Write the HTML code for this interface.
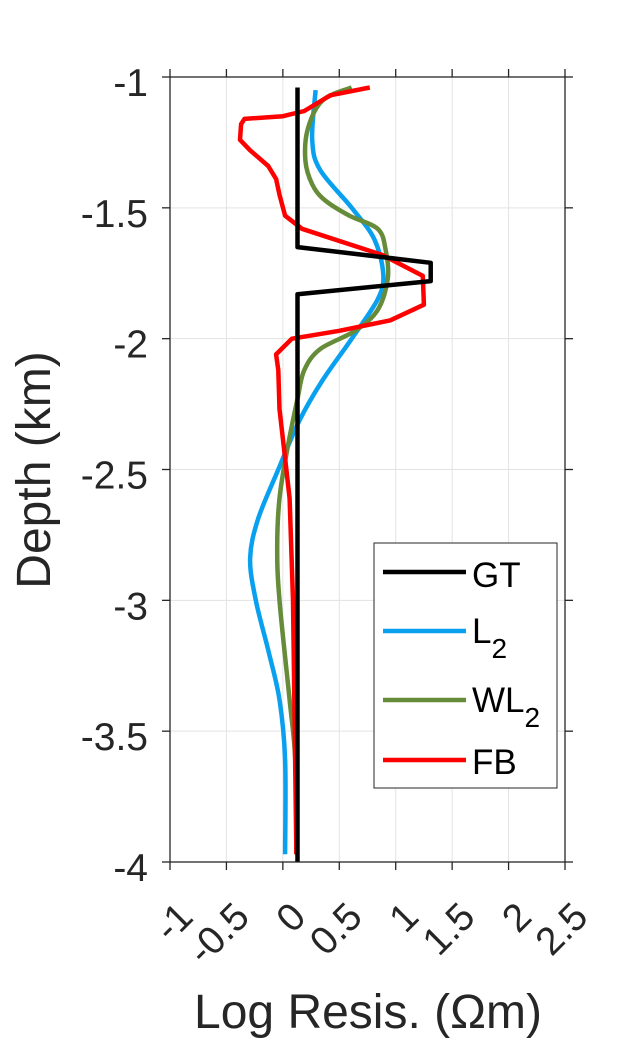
<!DOCTYPE html>
<html><head><meta charset="utf-8"><style>
body{margin:0;background:#fff;width:625px;height:1042px;overflow:hidden}
svg{display:block;font-family:"Liberation Sans",Arial,sans-serif}
</style></head><body>
<svg id="chart" width="625" height="1042" viewBox="0 0 625 1042">
<g id="grid"></g>
<g id="series"></g>
<g id="axes"></g>
<text transform="translate(50,470) rotate(-90)" text-anchor="middle" font-size="48" fill="#262626">Depth (km)</text>
<text x="368" y="1028" text-anchor="middle" font-size="48" fill="#262626">Log Resis. (Ωm)</text>
<g>
<rect x="374" y="543" width="183" height="245" fill="#fff" stroke="#262626" stroke-width="1"/>
<g><line x1="383" y1="572" x2="466" y2="572" stroke="#000" stroke-width="4.5"/><text x="472" y="587" font-size="35" fill="#000">GT</text></g>
<g><line x1="383" y1="631" x2="466" y2="631" stroke="#0aa0f0" stroke-width="4.5"/><text x="472" y="643" font-size="35" fill="#000">L<tspan font-size="28" dy="15">2</tspan></text></g>
<g><line x1="383" y1="700" x2="466" y2="700" stroke="#668b39" stroke-width="4.5"/><text x="472" y="712" font-size="35" fill="#000">WL<tspan font-size="28" dy="15">2</tspan></text></g>
<g><line x1="383" y1="760" x2="466" y2="760" stroke="#ff0000" stroke-width="4.5"/><text x="472" y="774" font-size="35" fill="#000">FB</text></g>
</g>
</svg>
<script>
const xTicks=[-1,-0.5,0,0.5,1,1.5,2,2.5];
const xTickLabels=["-1","-0.5","0","0.5","1","1.5","2","2.5"];
const yTicks=[-1,-1.5,-2,-2.5,-3,-3.5,-4];
const yTickLabels=["-1","-1.5","-2","-2.5","-3","-3.5","-4"];
const gtDepth=[-1.04,-1.65,-1.71,-1.78,-1.83,-4];
const gtVal=[0.13,0.13,1.31,1.31,0.13,0.13];
const l2Depth=[-1.05,-1.24,-1.355,-1.5,-1.62,-1.755,-1.85,-2.0,-2.16,-2.31,-2.5,-2.69,-2.84,-3.0,-3.19,-3.38,-3.61,-3.97];
const l2Val=[0.29,0.26,0.33,0.61,0.81,0.89,0.84,0.61,0.35,0.15,-0.04,-0.22,-0.29,-0.24,-0.13,-0.03,0.02,0.02];
const wl2Depth=[-1.04,-1.09,-1.2,-1.32,-1.41,-1.47,-1.53,-1.58,-1.66,-1.77,-1.89,-1.97,-2.04,-2.12,-2.23,-2.42,-2.61,-2.8,-3.0,-3.38,-3.61,-3.97];
const wl2Val=[0.61,0.35,0.22,0.2,0.26,0.37,0.59,0.84,0.91,0.93,0.84,0.64,0.33,0.19,0.13,0.04,-0.03,-0.05,-0.03,0.06,0.11,0.12];
const fbDepth=[-1.04,-1.07,-1.13,-1.15,-1.16,-1.18,-1.24,-1.28,-1.34,-1.39,-1.45,-1.53,-1.58,-1.68,-1.76,-1.87,-1.93,-1.97,-2.0,-2.06,-2.12,-2.27,-2.42,-2.61,-3.0,-3.97];
const fbVal=[0.77,0.42,0.19,0,-0.34,-0.37,-0.38,-0.29,-0.13,-0.06,-0.03,0.02,0.17,0.88,1.24,1.25,0.95,0.5,0.08,-0.06,-0.04,-0.03,0.01,0.06,0.09,0.12];

const X0=170,X1=565,Y0=77,Y1=862;
const xs=v=>X0+(v+1)/3.5*(X1-X0);
const ys=d=>Y0+(-1-d)/3*(Y1-Y0);
const NS="http://www.w3.org/2000/svg";
function mk(tag,attrs,parent){const e=document.createElementNS(NS,tag);for(const k in attrs)e.setAttribute(k,attrs[k]);parent.appendChild(e);return e;}
const grid=document.getElementById('grid'),axes=document.getElementById('axes'),series=document.getElementById('series');
xTicks.forEach((v,i)=>{
  const x=xs(v);
  const g=mk('line',{x1:x,y1:Y0,x2:x,y2:Y1,stroke:'#e3e3e3','stroke-width':1},grid);
  
  
  const t1=mk('line',{x1:x,y1:Y1,x2:x,y2:Y1+8,stroke:'#262626','stroke-width':1.3},axes);
  
  
  const t2=mk('line',{x1:x,y1:Y0,x2:x,y2:Y0-8,stroke:'#262626','stroke-width':1.3},axes);
  
  
  const lb=mk('text',{transform:`translate(${x+25},${Y1+57}) rotate(-45)`,'text-anchor':'end','font-size':39,fill:'#262626'},axes);
  lb.textContent=xTickLabels[i];
  
  
});
yTicks.forEach((v,i)=>{
  const y=ys(v);
  const g=mk('line',{x1:X0,y1:y,x2:X1,y2:y,stroke:'#e3e3e3','stroke-width':1},grid);
  
  
  const t1=mk('line',{x1:X0,y1:y,x2:X0-8,y2:y,stroke:'#262626','stroke-width':1.3},axes);
  
  
  const t2=mk('line',{x1:X1,y1:y,x2:X1+8,y2:y,stroke:'#262626','stroke-width':1.3},axes);
  
  
  const lb=mk('text',{x:148,y:y+19,'text-anchor':'end','font-size':39,fill:'#262626'},axes);
  lb.textContent=yTickLabels[i];
  
  
});
const box=mk('rect',{x:X0,y:Y0,width:X1-X0,height:Y1-Y0,fill:'none',stroke:'#262626','stroke-width':1.3},axes);


function pathFor(d,v,smooth){
  const P=d.map((dd,i)=>[xs(v[i]),ys(dd)]);
  if(!smooth) return 'M'+P.map(p=>p[0].toFixed(1)+','+p[1].toFixed(1)).join(' L');
  let s='M'+P[0][0].toFixed(1)+','+P[0][1].toFixed(1);
  for(let i=0;i<P.length-1;i++){
    const p0=P[Math.max(0,i-1)],p1=P[i],p2=P[i+1],p3=P[Math.min(P.length-1,i+2)];
    const c1=[p1[0]+(p2[0]-p0[0])/6,p1[1]+(p2[1]-p0[1])/6];
    const c2=[p2[0]-(p3[0]-p1[0])/6,p2[1]-(p3[1]-p1[1])/6];
    s+=` C${c1[0].toFixed(1)},${c1[1].toFixed(1)} ${c2[0].toFixed(1)},${c2[1].toFixed(1)} ${p2[0].toFixed(1)},${p2[1].toFixed(1)}`;
  }
  return s;
}
function line(d,v,color,name,smooth){
  const p=mk('path',{d:pathFor(d,v,smooth),fill:'none',stroke:color,'stroke-width':4.5,'stroke-linejoin':'round'},series);
  
  
}
line(l2Depth,l2Val,'#0aa0f0','l2-line',true);
line(wl2Depth,wl2Val,'#668b39','wl2-line',true);
line(fbDepth,fbVal,'#ff0000','fb-line',false);
line(gtDepth,gtVal,'#000000','gt-line',false);
</script>
</body></html>
